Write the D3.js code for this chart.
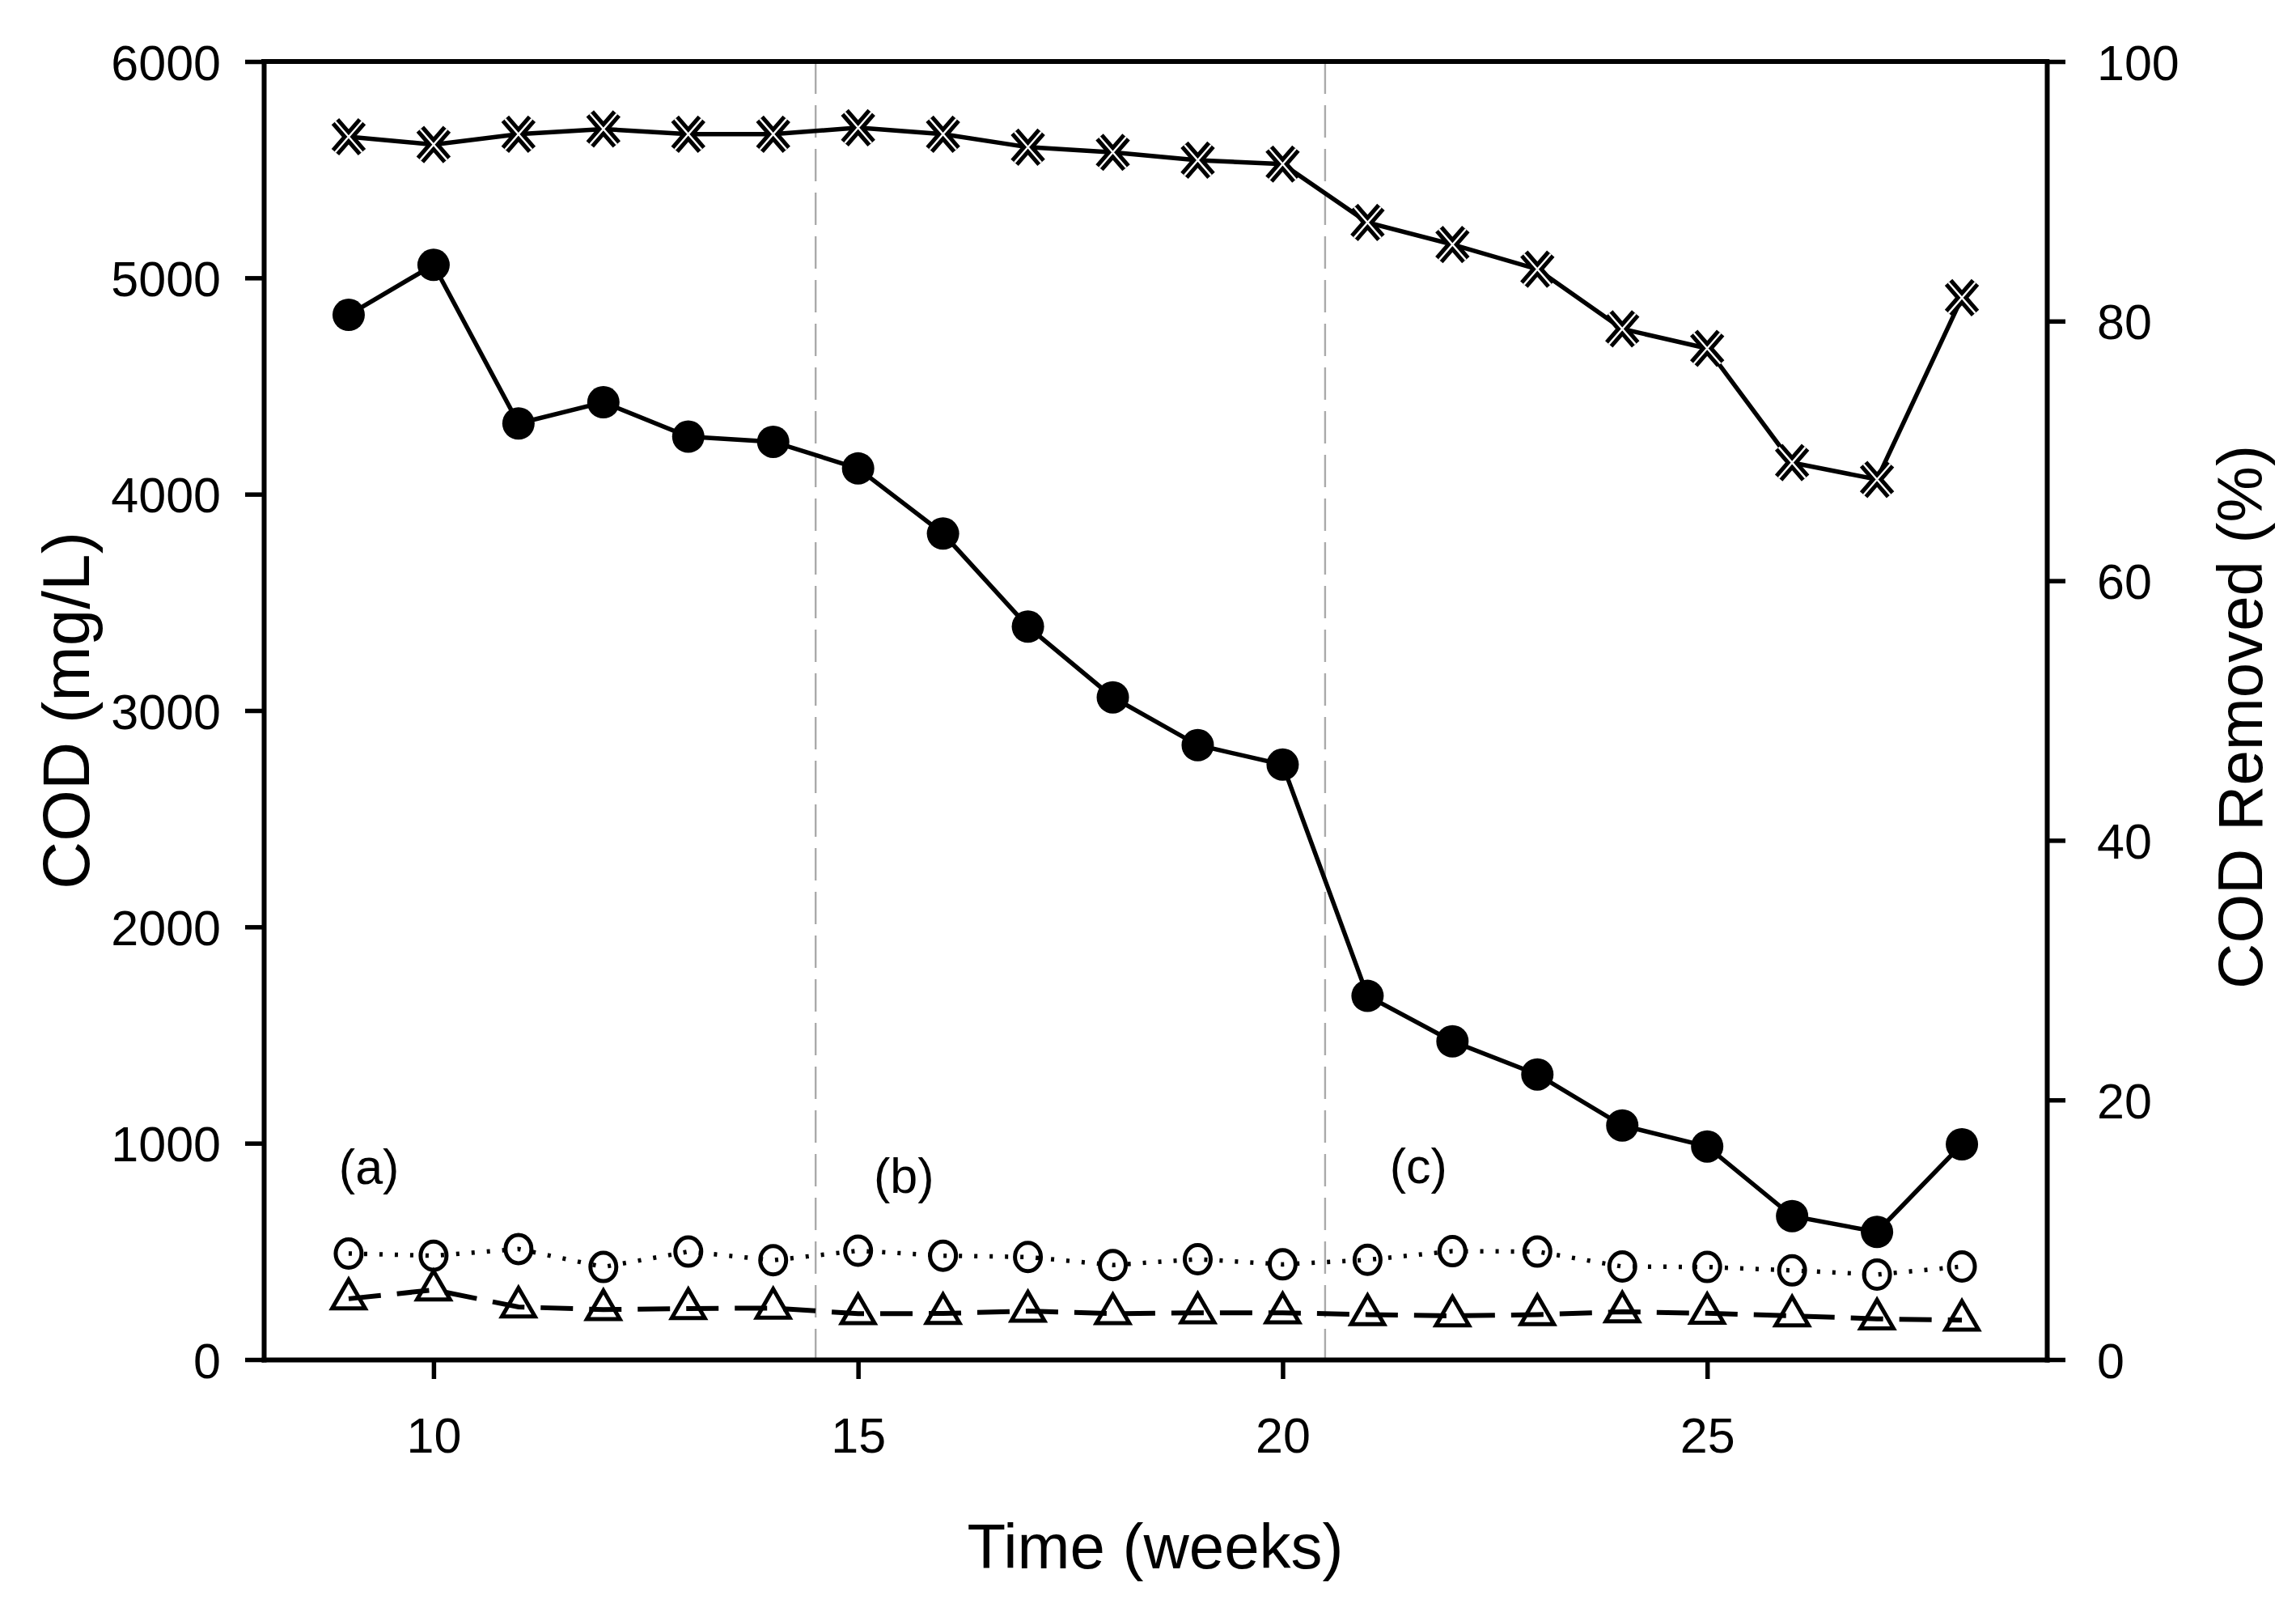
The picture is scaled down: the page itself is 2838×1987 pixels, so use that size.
<!DOCTYPE html>
<html>
<head>
<meta charset="utf-8">
<script src="https://cdn.jsdelivr.net/npm/d3@7"></script>
<style>
  html, body { margin: 0; padding: 0; background: #fff; }
  svg { display: block; }
  text { font-family: "Liberation Sans", Arial, sans-serif; fill: #000; }
</style>
</head>
<body>
<svg id="chart" width="2838" height="1987"></svg>
<script>
// ---- data ----
const weeks = [9,10,11,12,13,14,15,16,17,18,19,20,21,22,23,24,25,26,27,28];
const codInfluent = [4829,5060,4327,4425,4266,4242,4119,3818,3388,3061,2840,2750,1681,1471,1318,1082,985,663,590,995];
const codOpen = [490,480,511,428,499,459,503,480,474,437,464,440,461,501,499,430,428,412,393,430];
const codTriangle = [281,322,243,231,236,238,212,213,224,212,216,216,208,202,208,221,214,202,188,182];
const codRemoved = [94.2,93.6,94.4,94.8,94.4,94.4,94.9,94.4,93.4,93.0,92.4,92.1,87.6,85.9,84.0,79.4,77.9,69.1,67.8,81.8];
const phaseBounds = [14.5, 20.5];
const phaseLabels = ["(a)", "(b)", "(c)"];
const phaseLabelX = [9.24, 15.54, 21.6];
const phaseLabelY = [812, 771, 816];
const xTicks = [10, 15, 20, 25];
const yLeftTicks = [0, 1000, 2000, 3000, 4000, 5000, 6000];
const yRightTicks = [0, 20, 40, 60, 80, 100];
const xDomain = [8, 29];
const yLeftDomain = [0, 6000];
const yRightDomain = [0, 100];
const xTitle = "Time (weeks)";
const yLeftTitle = "COD (mg/L)";
const yRightTitle = "COD Removed (%)";

// ---- layout ----
const L = 326, R = 2530, T = 76, B = 1680;
const svg = d3.select("#chart");
const x = d3.scaleLinear().domain(xDomain).range([L, R]);
const yL = d3.scaleLinear().domain(yLeftDomain).range([B, T]);
const yR = d3.scaleLinear().domain(yRightDomain).range([B, T]);

const tickFont = 61, titleFont = 78;

// phase divider lines
svg.append("g").selectAll("line").data(phaseBounds).join("line")
  .attr("x1", d => x(d)).attr("x2", d => x(d))
  .attr("y1", T).attr("y2", B)
  .attr("stroke", "#aaaaaa").attr("stroke-width", 2.4)
  .attr("stroke-dasharray", "40 14");

// axes
function styleAxis(g) {
  g.selectAll(".domain").attr("stroke", "#000").attr("stroke-width", 6).attr("stroke-linecap", "square");
  g.selectAll(".tick line").attr("stroke", "#000").attr("stroke-width", 5.5);
  g.selectAll(".tick text").attr("font-size", tickFont).attr("font-family", '"Liberation Sans", Arial, sans-serif').attr("fill", "#000");
}

const gL = svg.append("g").attr("transform", `translate(${L},0)`)
  .call(d3.axisLeft(yL).tickValues(yLeftTicks).tickFormat(d3.format("d")).tickSize(23).tickSizeOuter(0).tickPadding(30));
styleAxis(gL);
gL.selectAll(".tick text").attr("dy", null).attr("y", 22);

const gR = svg.append("g").attr("transform", `translate(${R},0)`)
  .call(d3.axisRight(yR).tickValues(yRightTicks).tickFormat(d3.format("d")).tickSize(23).tickSizeOuter(0).tickPadding(39));
styleAxis(gR);
gR.selectAll(".tick text").attr("dy", null).attr("y", 22);

const gB = svg.append("g").attr("transform", `translate(0,${B})`)
  .call(d3.axisBottom(x).tickValues(xTicks).tickFormat(d3.format("d")).tickSize(24).tickSizeOuter(0));
styleAxis(gB);
gB.selectAll(".tick text").attr("dy", null).attr("y", 115);

// top frame
svg.append("line").attr("x1", L).attr("x2", R).attr("y1", T).attr("y2", T)
  .attr("stroke", "#000").attr("stroke-width", 6).attr("stroke-linecap", "square");

// titles
svg.append("text").attr("x", (L + R) / 2).attr("y", 1938).attr("text-anchor", "middle")
  .attr("font-size", titleFont).text(xTitle);
svg.append("text").attr("transform", `translate(110,${(T + B) / 2}) rotate(-90)`)
  .attr("text-anchor", "middle").attr("font-size", 82).text(yLeftTitle);
svg.append("text").attr("transform", `translate(2796,${(T + B) / 2 + 8}) rotate(-90)`)
  .attr("text-anchor", "middle").attr("font-size", titleFont).text(yRightTitle);

// phase labels
svg.append("g").selectAll("text").data(phaseLabels).join("text")
  .attr("x", (d, i) => x(phaseLabelX[i])).attr("y", (d, i) => yL(phaseLabelY[i]))
  .attr("text-anchor", "middle").attr("font-size", tickFont).text(d => d);

// lines
const lineL = d3.line().x((d, i) => x(weeks[i])).y(d => yL(d));
const lineR = d3.line().x((d, i) => x(weeks[i])).y(d => yR(d));

svg.append("path").datum(codTriangle).attr("d", lineL)
  .attr("fill", "none").attr("stroke", "#000").attr("stroke-width", 6)
  .attr("stroke-dasharray", "40 20");
svg.append("path").datum(codOpen).attr("d", lineL)
  .attr("fill", "none").attr("stroke", "#000").attr("stroke-width", 5.5)
  .attr("stroke-dasharray", "4 15");
svg.append("path").datum(codInfluent).attr("d", lineL)
  .attr("fill", "none").attr("stroke", "#000").attr("stroke-width", 5.5);
svg.append("path").datum(codRemoved).attr("d", lineR)
  .attr("fill", "none").attr("stroke", "#000").attr("stroke-width", 5.5);

// markers
svg.append("g").selectAll("circle").data(codInfluent).join("circle")
  .attr("cx", (d, i) => x(weeks[i])).attr("cy", d => yL(d)).attr("r", 20)
  .attr("fill", "#000");

svg.append("g").selectAll("ellipse").data(codOpen).join("ellipse")
  .attr("cx", (d, i) => x(weeks[i])).attr("cy", d => yL(d)).attr("rx", 16).attr("ry", 17.5)
  .attr("fill", "none").attr("stroke", "#000").attr("stroke-width", 5);

const tri = d3.symbol().type(d3.symbolTriangle).size(720);
svg.append("g").selectAll("path").data(codTriangle).join("path")
  .attr("transform", (d, i) => `translate(${x(weeks[i])},${yL(d)})`)
  .attr("d", tri())
  .attr("fill", "none").attr("stroke", "#000").attr("stroke-width", 5).attr("stroke-linejoin", "miter");

// cross markers (outlined X)
const xs = 16.5;
const crossPath = `M${-xs},${-xs * 1.15}L${xs},${xs * 1.15}M${xs},${-xs * 1.15}L${-xs},${xs * 1.15}`;
const gX = svg.append("g");
gX.selectAll("path.xo").data(codRemoved).join("path").attr("class", "xo")
  .attr("transform", (d, i) => `translate(${x(weeks[i])},${yR(d)})`)
  .attr("d", crossPath).attr("stroke", "#000").attr("stroke-width", 12.5).attr("fill", "none");
gX.selectAll("path.xi").data(codRemoved).join("path").attr("class", "xi")
  .attr("transform", (d, i) => `translate(${x(weeks[i])},${yR(d)})`)
  .attr("d", crossPath).attr("stroke", "#fff").attr("stroke-width", 2.4).attr("fill", "none");
</script>
</body>
</html>
